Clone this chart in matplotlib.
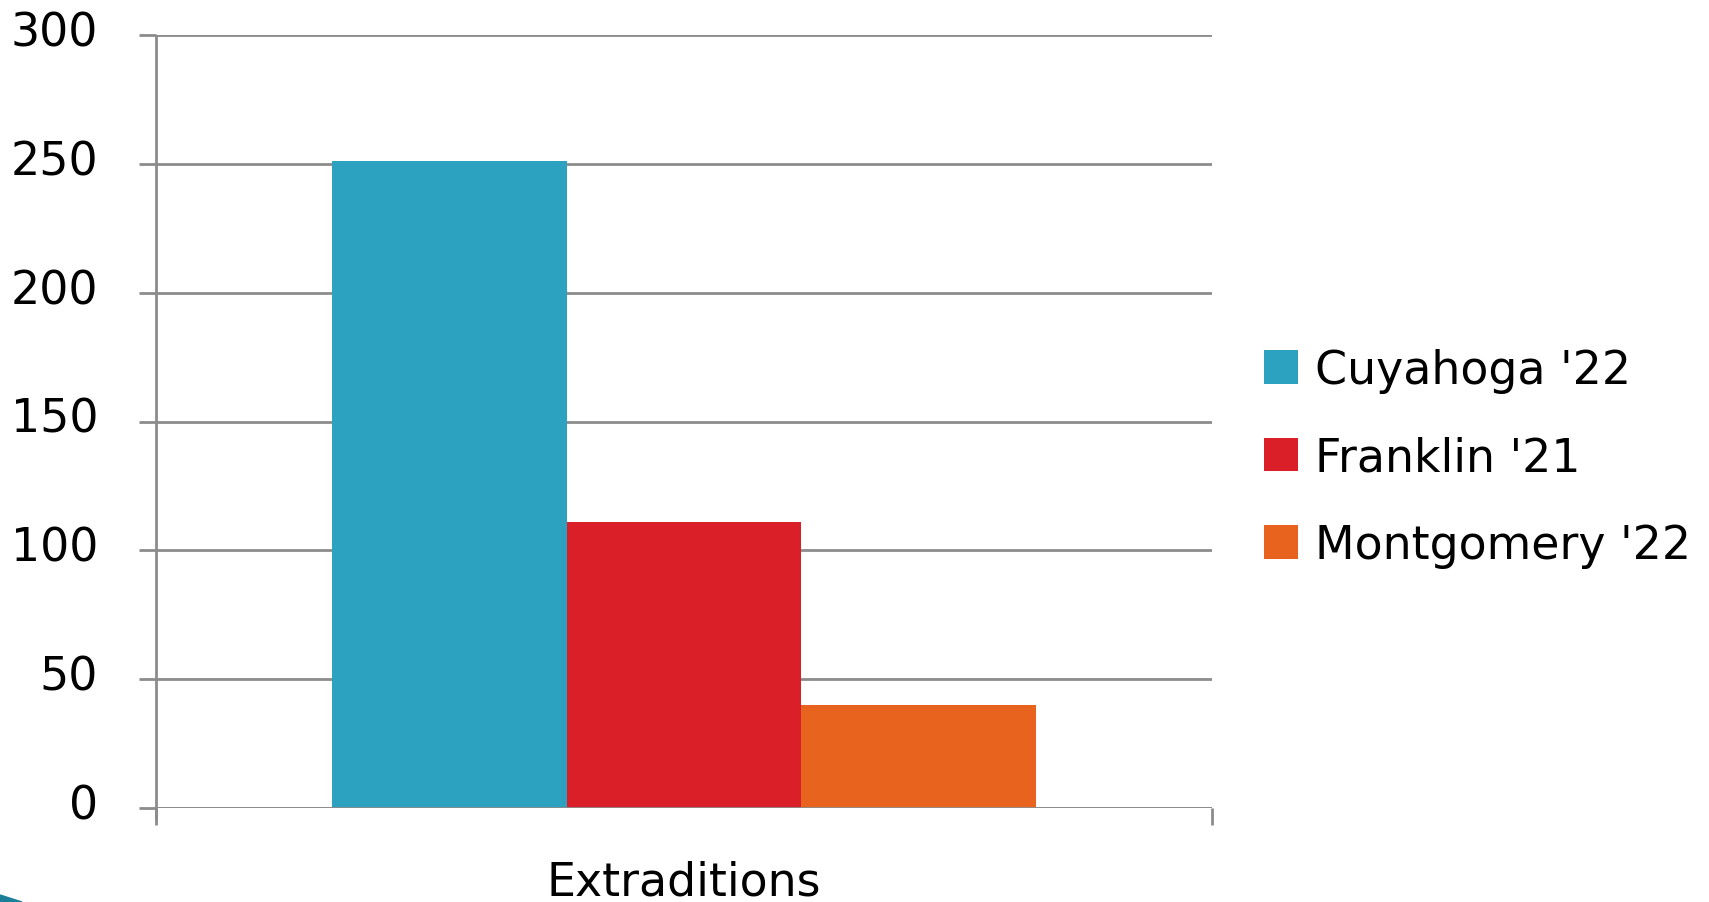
import matplotlib
matplotlib.use("Agg")
import matplotlib.pyplot as plt
from matplotlib.patches import Polygon
from matplotlib.transforms import ScaledTranslation

# Data
category = ["Extraditions"]
series_names = ["Cuyahoga '22", "Franklin '21", "Montgomery '22"]
series_values = [251, 111, 40]
series_colors = ["#2CA2C0", "#DA1F29", "#E8631D"]
y_ticks = [0, 50, 100, 150, 200, 250, 300]

W, H, DPI = 1709, 903, 100
plt.rcParams['font.family'] = ['DejaVu Sans']
fig = plt.figure(figsize=(W / DPI, H / DPI), dpi=DPI)
ax = fig.add_axes([155.9 / W, 94 / H, (1212 - 155.9) / W, (867 - 94) / H])

grid_c = "#8C8C8C"
fs = 33
bar_w = 2 / 9
n = len(series_values)
for i, (name, val, col) in enumerate(zip(series_names, series_values, series_colors)):
    x = (i - (n - 1) / 2) * bar_w
    ax.bar(x, val, width=bar_w, color=col, label=name, zorder=3, linewidth=0)

ax.set_xlim(-0.5, 0.5)
ax.set_ylim(0, 300)
for s in ax.spines.values():
    s.set_visible(False)

# y axis: gridlines + ticks extending left
ax.set_yticks(y_ticks)
ax.set_yticklabels([str(v) for v in y_ticks])
ax.yaxis.grid(True, color=grid_c, linewidth=2, zorder=1)
ax.tick_params(axis='y', length=12.5, width=2, color=grid_c, pad=29, labelsize=fs)
shift = ScaledTranslation(0, 7 / DPI, fig.dpi_scale_trans)
for lbl in ax.get_yticklabels():
    lbl.set_transform(lbl.get_transform() + shift)

# x axis: boundary ticks (major) and centered category label (minor)
ax.set_xticks([-0.5, 0.5])
ax.set_xticklabels(["", ""])
ax.tick_params(axis='x', which='major', length=12, width=2, color=grid_c, direction='out')
ax.set_xticks([0], minor=True)
ax.set_xticklabels(category, minor=True)
ax.tick_params(axis='x', which='minor', length=0, pad=37, labelsize=fs)

# left spine extending below axis
ax.plot([0, 0], [-12 / 773, 1], transform=ax.transAxes, color=grid_c, lw=2,
        clip_on=False, zorder=4, solid_capstyle='butt')
ax.axhline(0, color=grid_c, lw=2, zorder=4)

leg = fig.legend(loc='center left', bbox_to_anchor=(1264 / W, 1 - 459 / H),
                 frameon=False, fontsize=fs, handlelength=0.74, handleheight=0.74,
                 handletextpad=0.37, labelspacing=0.93, borderpad=0, borderaxespad=0)

# small decorative corner shape
fig.patches.append(Polygon([[0, 0], [0, 7 / H], [22 / W, 0]], closed=True,
                           transform=fig.transFigure, color="#1C7F99"))

fig.savefig("out.png", dpi=DPI)
